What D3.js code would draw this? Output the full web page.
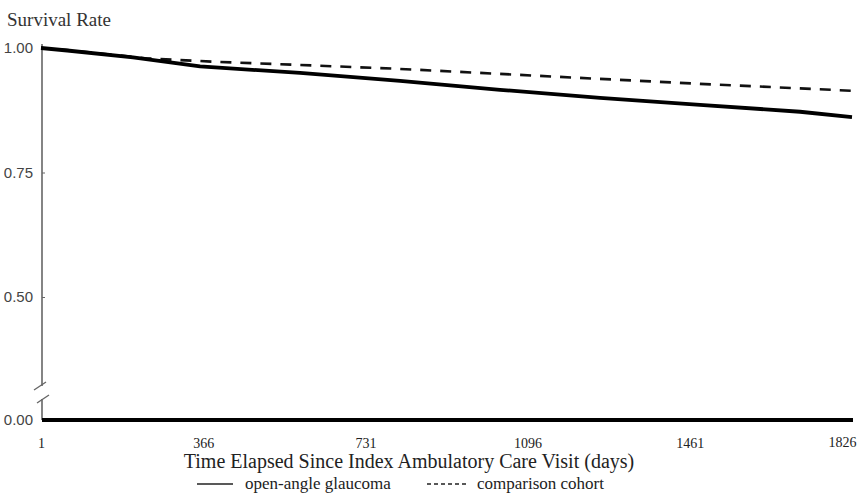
<!DOCTYPE html>
<html>
<head>
<meta charset="utf-8">
<script src="https://cdn.jsdelivr.net/npm/d3@7"></script>
<style>
  body { margin: 0; background: #fff; }
  svg { display: block; }
</style>
</head>
<body>
<figure id="km" style="margin:0"></figure>
<script>
const days = [1, 60, 208, 359, 584, 809, 1034, 1259, 1484, 1709, 1826];
const glaucoma = [1.000, 0.995, 0.981, 0.963, 0.950, 0.934, 0.916, 0.900, 0.886, 0.872, 0.861];

const cohortDays = [1, 60, 208, 240, 400, 584, 809, 1034, 1259, 1484, 1709, 1826];
const comparison = [1.000, 0.996, 0.982, 0.979, 0.972, 0.966, 0.958, 0.948, 0.938, 0.928, 0.919, 0.914];

const xTicks = [1, 366, 731, 1096, 1461, 1826];
const yTicks = [0.50, 0.75, 1.00];
const legendLabels = ["open-angle glaucoma", "comparison cohort"];

const width = 857, height = 504;
const plot = { left: 42, right: 852, top: 48, bottom: 420 };

const svg = d3.select("figure#km")
  .append("svg")
  .attr("width", width)
  .attr("height", height);

const x = d3.scaleLinear()
  .domain([1, 1826])
  .range([plot.left - 1, plot.right]);

const y = d3.scaleLinear()
  .domain([0.5, 1])
  .range([297, plot.top]);

const serif = "'Liberation Serif', 'Times New Roman', serif";
const narrow = "'Liberation Sans Narrow', 'Liberation Sans', sans-serif";

// y axis title
svg.append("text")
  .attr("x", 7)
  .attr("y", 26)
  .attr("font-family", serif)
  .attr("font-size", 19)
  .attr("fill", "#333")
  .text("Survival Rate");

// y axis (broken between 0.50 and 0.00)
svg.append("g")
  .attr("transform", `translate(${plot.left},0)`)
  .call(d3.axisRight(y)
    .tickValues(yTicks)
    .tickSize(3)
    .tickFormat(d3.format(".2f")))
  .call(g => g.select(".domain").remove())
  .call(g => g.selectAll("line").attr("stroke", "#666"))
  .call(g => g.selectAll("text")
    .attr("x", -9)
    .attr("text-anchor", "end")
    .attr("font-family", narrow)
    .attr("font-size", 15)
    .attr("fill", "#444"));

svg.append("text")
  .attr("x", plot.left - 9)
  .attr("y", plot.bottom)
  .attr("dy", "0.32em")
  .attr("text-anchor", "end")
  .attr("font-family", narrow)
  .attr("font-size", 15)
  .attr("fill", "#444")
  .text(d3.format(".2f")(0));

const axisPen = { stroke: "#666", width: 1.6 };

svg.append("line")
  .attr("x1", plot.left).attr("x2", plot.left)
  .attr("y1", plot.top - 4).attr("y2", 386)
  .attr("stroke", axisPen.stroke).attr("stroke-width", axisPen.width);

svg.append("line")
  .attr("x1", plot.left).attr("x2", plot.left)
  .attr("y1", 399).attr("y2", plot.bottom)
  .attr("stroke", axisPen.stroke).attr("stroke-width", axisPen.width);

// break marks
[[34, 390, 46, 382], [37, 403, 49, 395]].forEach(([x1, y1, x2, y2]) => {
  svg.append("line")
    .attr("x1", x1).attr("y1", y1)
    .attr("x2", x2).attr("y2", y2)
    .attr("stroke", axisPen.stroke).attr("stroke-width", 1.4);
});

// x axis
svg.append("g")
  .attr("transform", `translate(0,${plot.bottom})`)
  .call(d3.axisBottom(x)
    .tickValues(xTicks)
    .tickSize(0)
    .tickPadding(18)
    .tickFormat(d3.format("d")))
  .call(g => g.select(".domain").remove())
  .call(g => g.selectAll("text")
    .attr("font-family", serif)
    .attr("font-size", 14)
    .attr("fill", "#222"))
  // last label sits flush with the right edge
  .call(g => g.selectAll(".tick:last-of-type text")
    .attr("text-anchor", "end")
    .attr("dx", 4)
    .attr("dy", "0.62em"));

svg.append("line")
  .attr("x1", plot.left).attr("x2", plot.right + 1)
  .attr("y1", plot.bottom).attr("y2", plot.bottom)
  .attr("stroke", "#000")
  .attr("stroke-width", 4);

svg.append("text")
  .attr("x", 409)
  .attr("y", 468)
  .attr("text-anchor", "middle")
  .attr("font-family", serif)
  .attr("font-size", 20)
  .attr("fill", "#222")
  .text("Time Elapsed Since Index Ambulatory Care Visit (days)");

// curves
const line = d3.line()
  .x(d => x(d[0]))
  .y(d => y(d[1]));

svg.append("path")
  .datum(d3.zip(cohortDays, comparison))
  .attr("fill", "none")
  .attr("stroke", "#111")
  .attr("stroke-width", 2.6)
  .attr("stroke-dasharray", "11,9")
  .attr("d", line);

svg.append("path")
  .datum(d3.zip(days, glaucoma))
  .attr("fill", "none")
  .attr("stroke", "#000")
  .attr("stroke-width", 3.8)
  .attr("stroke-linejoin", "round")
  .attr("d", line);

// legend
const legend = svg.append("g")
  .attr("font-family", serif)
  .attr("font-size", 17)
  .attr("fill", "#222");

const legendItems = [
  { x0: 197, x1: 233, tx: 245, dash: null },
  { x0: 427, x1: 467, tx: 477, dash: "4,3" }
];

legendItems.forEach((it, i) => {
  legend.append("line")
    .attr("x1", it.x0).attr("x2", it.x1)
    .attr("y1", 484).attr("y2", 484)
    .attr("stroke", "#222")
    .attr("stroke-width", 1.4)
    .attr("stroke-dasharray", it.dash);
  legend.append("text")
    .attr("x", it.tx)
    .attr("y", 489)
    .text(legendLabels[i]);
});
</script>
</body>
</html>
